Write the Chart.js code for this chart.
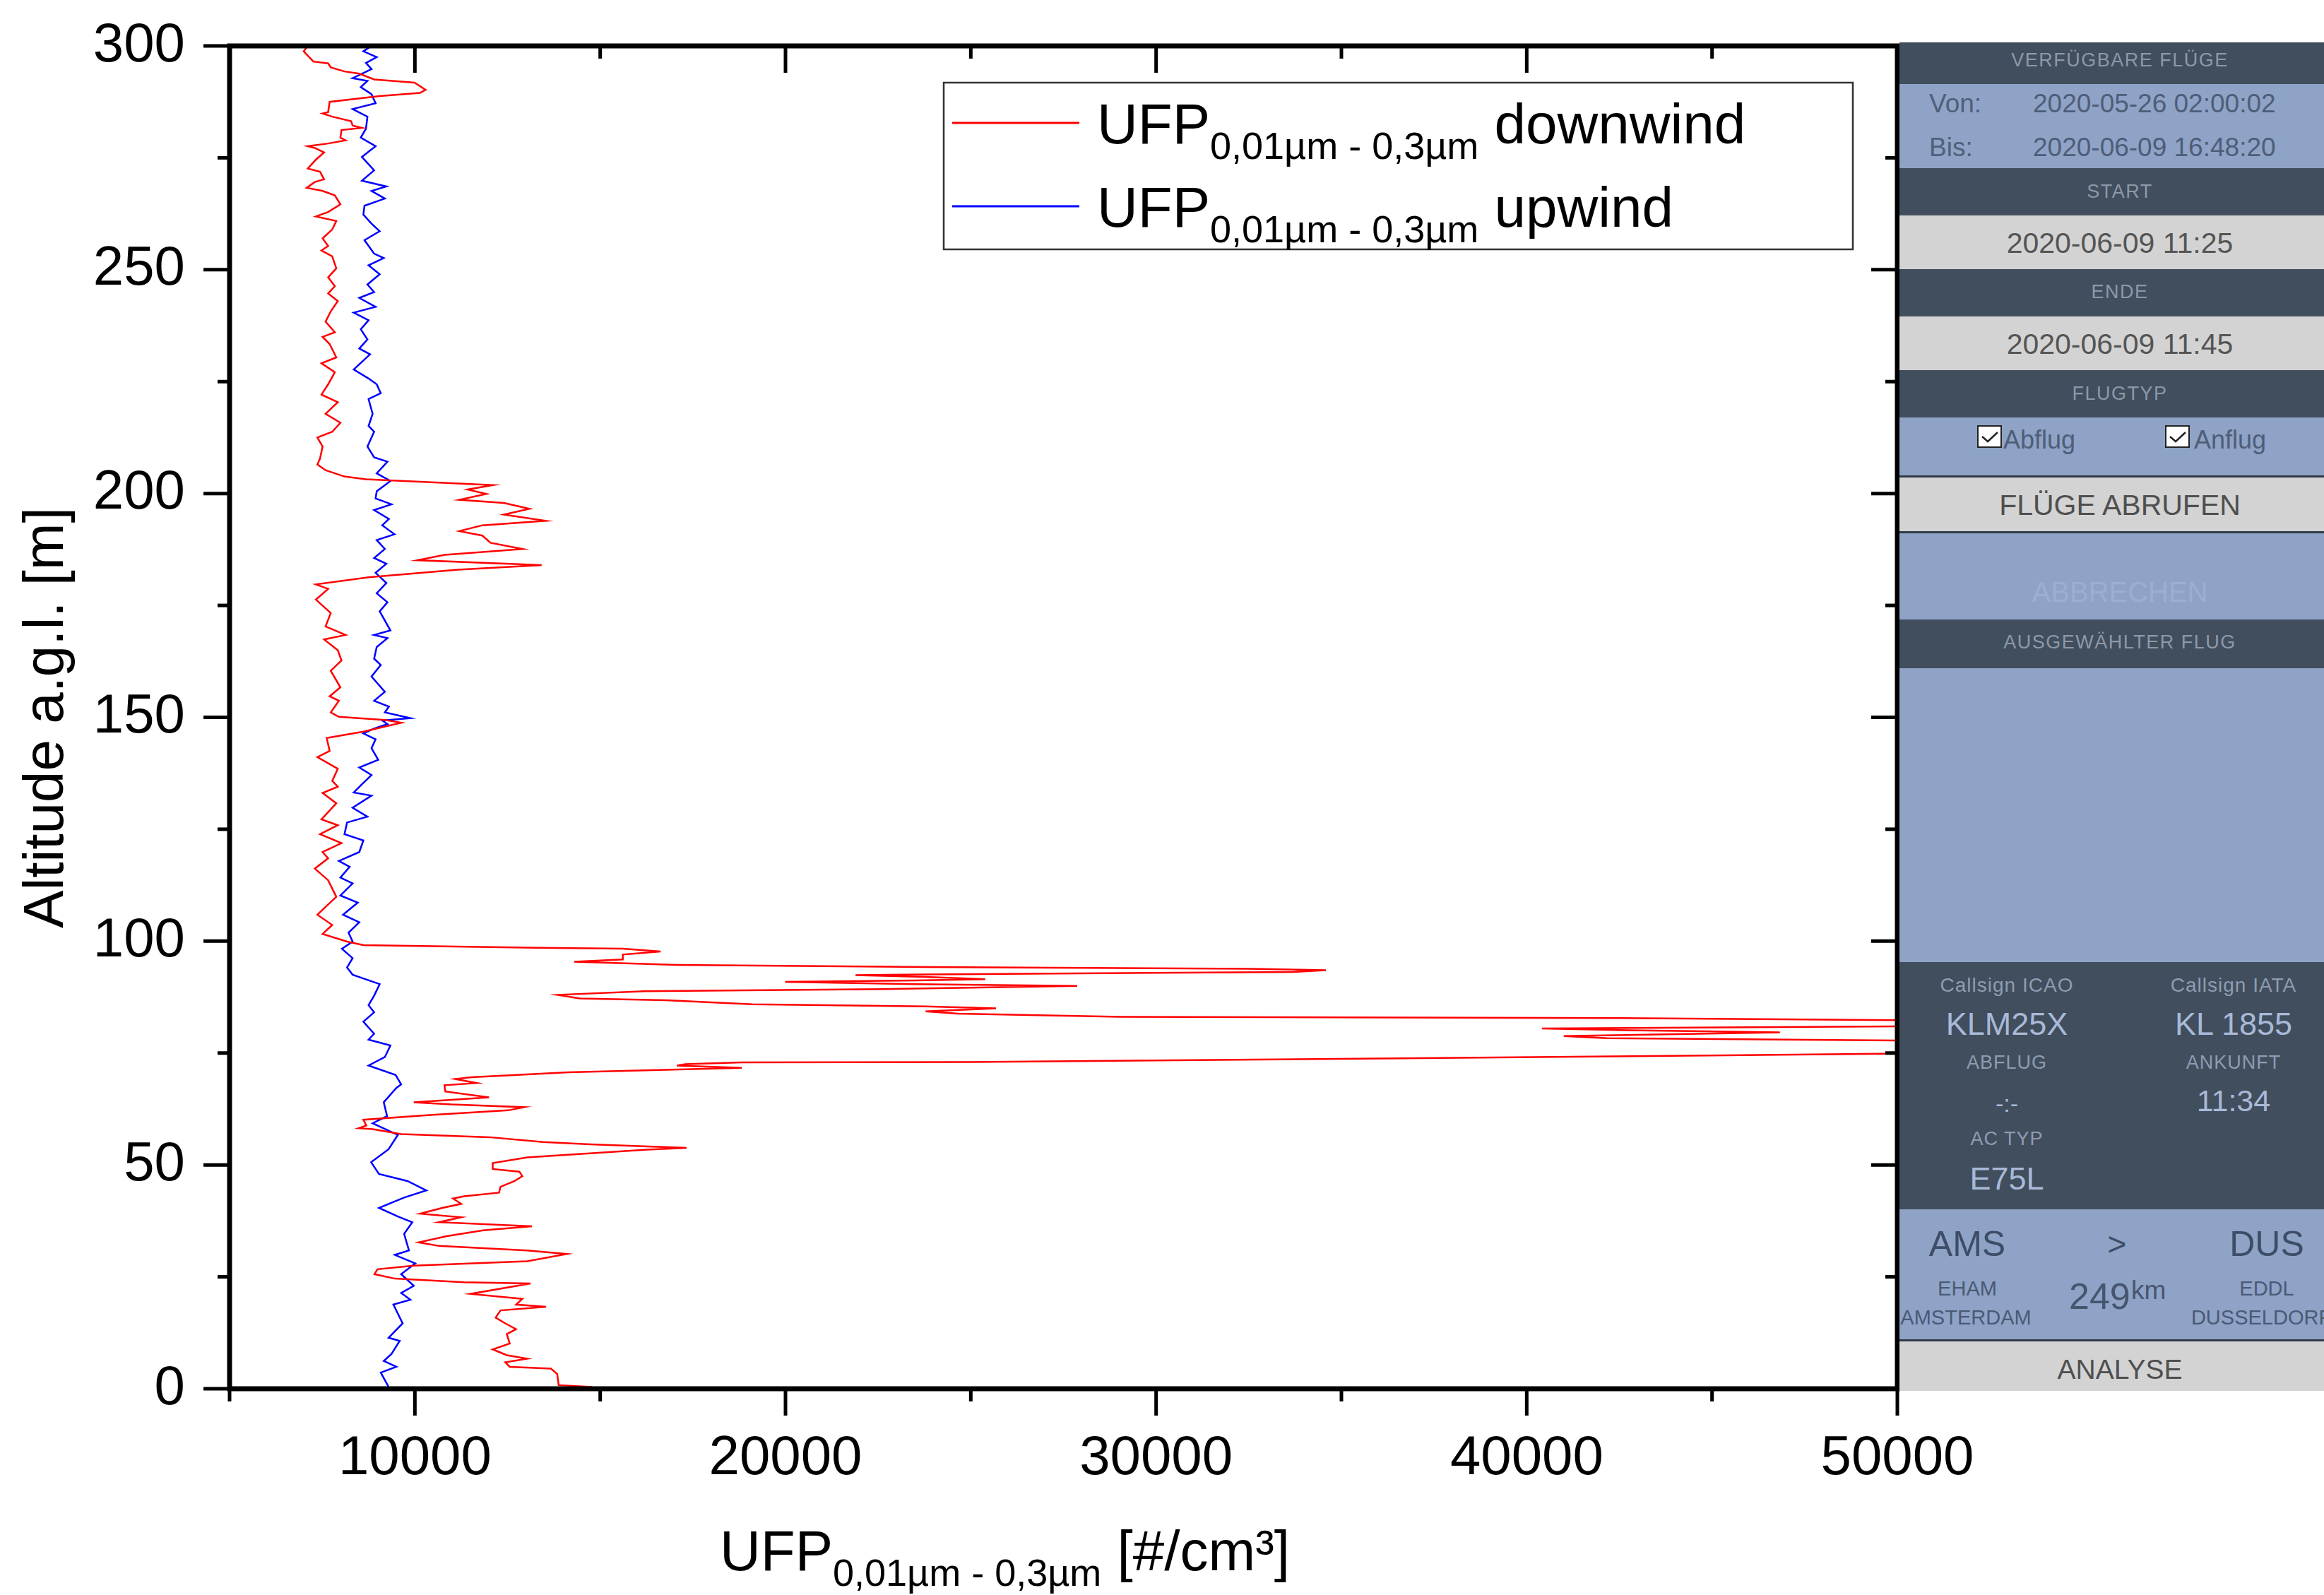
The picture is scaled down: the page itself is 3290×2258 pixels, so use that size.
<!DOCTYPE html>
<html><head><meta charset="utf-8">
<script src="https://cdn.jsdelivr.net/npm/chart.js@4.4.1/dist/chart.umd.min.js"></script>
<style>
html,body{margin:0;padding:0;background:#fff;overflow:hidden;width:3290px;height:2258px;}
#c{position:absolute;left:0;top:0;}
#panel{position:absolute;left:2689px;top:0;width:601px;height:2258px;overflow:hidden;}
.bd{position:absolute;left:0;width:601px;}
.d{background:#414e5d}.b{background:#8fa3c7}.g{background:#d3d3d3}
.ln{position:absolute;left:0;width:601px;height:3px;background:#2f3b48}
.t{position:absolute;transform:translate(-50%,-50%);white-space:nowrap;font-family:'Liberation Sans',Arial,sans-serif;line-height:1;}
.l{position:absolute;transform:translateY(-50%);white-space:nowrap;font-family:'Liberation Sans',Arial,sans-serif;line-height:1;}
.h{font-size:27px;color:#8d98aa;letter-spacing:1.5px}
.cb{position:absolute;width:31px;height:28px;background:#fff;border:2px solid #222;}
</style></head><body>
<canvas id="c" width="3290" height="2258"></canvas>
<div id="panel">
  <div class="bd d" style="top:60px;height:59px"></div>
  <div class="bd b" style="top:119px;height:119px"></div>
  <div class="bd d" style="top:238px;height:67px"></div>
  <div class="bd g" style="top:305px;height:76px"></div>
  <div class="bd d" style="top:381px;height:67px"></div>
  <div class="bd g" style="top:448px;height:76px"></div>
  <div class="bd d" style="top:524px;height:67px"></div>
  <div class="bd b" style="top:591px;height:84px"></div>
  <div class="bd g" style="top:675px;height:78px"></div>
  <div class="bd b" style="top:753px;height:124px"></div>
  <div class="bd d" style="top:877px;height:69px"></div>
  <div class="bd b" style="top:946px;height:416px"></div>
  <div class="bd d" style="top:1362px;height:350px"></div>
  <div class="bd b" style="top:1712px;height:186px"></div>
  <div class="bd g" style="top:1898px;height:71px"></div>
  <div class="ln" style="top:673px"></div>
  <div class="ln" style="top:752px"></div>
  <div class="ln" style="top:1896px"></div>

  <div class="t h" style="left:312px;top:85px">VERFÜGBARE FLÜGE</div>
  <div class="l" style="left:42px;top:146px;font-size:37px;color:#50607a">Von:</div>
  <div class="l" style="left:189px;top:146px;font-size:37px;color:#4e5e78">2020-05-26 02:00:02</div>
  <div class="l" style="left:42px;top:208px;font-size:37px;color:#50607a">Bis:</div>
  <div class="l" style="left:189px;top:208px;font-size:37px;color:#4e5e78">2020-06-09 16:48:20</div>
  <div class="t h" style="left:312px;top:271px">START</div>
  <div class="t" style="left:312px;top:344px;font-size:41px;color:#555">2020-06-09 11:25</div>
  <div class="t h" style="left:312px;top:413px">ENDE</div>
  <div class="t" style="left:312px;top:487px;font-size:41px;color:#555">2020-06-09 11:45</div>
  <div class="t h" style="left:312px;top:557px">FLUGTYP</div>
  <div class="cb" style="left:110px;top:602px"><svg width="31" height="28"><polyline points="5,14 13,21 27,8" fill="none" stroke="#222" stroke-width="2.5"/></svg></div>
  <div class="l" style="left:147px;top:623px;font-size:36px;color:#4e5e78">Abflug</div>
  <div class="cb" style="left:376px;top:602px"><svg width="31" height="28"><polyline points="5,14 13,21 27,8" fill="none" stroke="#222" stroke-width="2.5"/></svg></div>
  <div class="l" style="left:417px;top:623px;font-size:36px;color:#4e5e78">Anflug</div>
  <div class="t" style="left:312px;top:715px;font-size:41px;color:#4f4f4f">FLÜGE ABRUFEN</div>
  <div class="t" style="left:312px;top:838px;font-size:40px;color:#9cafd0">ABBRECHEN</div>
  <div class="t h" style="left:312px;top:909px">AUSGEWÄHLTER FLUG</div>

  <div class="t" style="left:152px;top:1395px;font-size:28px;color:#8e9cb2;letter-spacing:1px">Callsign ICAO</div>
  <div class="t" style="left:473px;top:1395px;font-size:28px;color:#8e9cb2;letter-spacing:1px">Callsign IATA</div>
  <div class="t" style="left:152px;top:1449px;font-size:45px;color:#a9b9d8">KLM25X</div>
  <div class="t" style="left:473px;top:1449px;font-size:45px;color:#a9b9d8">KL 1855</div>
  <div class="t" style="left:152px;top:1504px;font-size:27px;color:#8e9cb2;letter-spacing:1px">ABFLUG</div>
  <div class="t" style="left:473px;top:1504px;font-size:27px;color:#8e9cb2;letter-spacing:1px">ANKUNFT</div>
  <div class="t" style="left:152px;top:1562px;font-size:34px;color:#a9b9d8">-:-</div>
  <div class="t" style="left:473px;top:1558px;font-size:43px;color:#a9b9d8">11:34</div>
  <div class="t" style="left:152px;top:1612px;font-size:27px;color:#8e9cb2;letter-spacing:1px">AC TYP</div>
  <div class="t" style="left:152px;top:1668px;font-size:45px;color:#a9b9d8">E75L</div>

  <div class="t" style="left:96px;top:1761px;font-size:50px;color:#3e4d66">AMS</div>
  <div class="t" style="left:308px;top:1761px;font-size:46px;color:#3e4d66">&gt;</div>
  <div class="t" style="left:520px;top:1761px;font-size:50px;color:#3e4d66">DUS</div>
  <div class="t" style="left:96px;top:1824px;font-size:29px;color:#4a5a75">EHAM</div>
  <div class="t" style="left:94px;top:1865px;font-size:29px;color:#4a5a75">AMSTERDAM</div>
  <div class="t" style="left:520px;top:1824px;font-size:29px;color:#4a5a75">EDDL</div>
  <div class="t" style="left:512px;top:1865px;font-size:29px;color:#4a5a75">DUSSELDORF</div>
  <div style="position:absolute;left:240px;top:1809px;font-family:'Liberation Sans',Arial,sans-serif;font-size:52px;line-height:1;color:#46566f">249</div>
  <div style="position:absolute;left:328px;top:1808px;font-family:'Liberation Sans',Arial,sans-serif;font-size:37px;line-height:1;color:#46566f">km</div>
  <div class="t" style="left:312px;top:1938px;font-size:39px;color:#4f4f4f">ANALYSE</div>
</div>
<script>
// ---- data (altitude a.g.l. [m] and UFP concentration [#/cm³]) ----
const downAlt = [300.0,298.8,298.1,296.5,296.1,295.2,294.3,293.8,292.5,291.8,290.2,289.5,288.8,287.5,285.2,284.9,284.2,283.2,282.2,281.7,281.2,279.5,278.9,278.2,277.6,277.2,276.2,274.6,272.6,271.9,270.2,269.6,268.3,267.6,266.6,264.6,262.9,261.9,260.9,259.0,257.0,255.3,254.3,253.0,250.3,248.3,246.3,244.7,243.0,240.7,238.4,236.0,235.0,233.4,230.4,229.1,227.1,224.4,222.1,220.4,217.8,215.8,213.8,212.5,210.5,207.8,206.5,205.2,203.8,203.2,201.9,200.9,199.9,198.6,197.9,196.6,195.3,193.9,192.9,191.6,190.6,189.0,187.6,186.3,185.1,184.0,183.0,181.3,179.7,178.7,176.3,173.3,170.3,168.4,167.4,165.0,162.7,160.4,156.7,154.7,153.7,151.1,150.1,149.4,148.8,146.8,145.4,142.5,141.1,138.5,135.8,134.5,133.1,130.8,127.2,125.9,123.9,121.9,119.9,118.5,116.2,113.6,109.9,105.9,103.6,101.6,99.9,99.1,98.5,98.3,97.7,97.0,95.9,95.4,94.7,94.2,93.8,93.5,93.1,92.9,92.5,92.4,92.0,91.5,91.2,90.9,90.4,90.0,89.3,88.8,88.0,87.2,86.8,85.9,85.4,85.0,84.3,83.8,83.1,82.8,82.0,81.0,80.5,80.1,79.6,78.8,78.3,77.8,76.5,74.9,74.5,73.8,73.0,72.9,72.5,72.2,71.7,70.7,69.6,69.2,68.3,67.8,66.4,65.1,64.0,63.5,62.9,62.2,61.2,60.1,58.8,58.2,58.0,56.9,56.2,55.1,54.6,53.8,53.4,51.7,50.4,49.1,48.5,47.5,46.4,45.1,43.8,43.0,42.5,41.3,40.4,39.1,38.3,37.2,36.3,35.4,34.1,32.7,31.9,30.9,30.1,28.5,27.5,26.7,25.6,24.6,23.8,23.5,21.2,20.1,18.8,18.3,17.5,15.9,14.6,13.3,12.2,10.1,8.8,7.5,6.7,5.9,4.9,4.5,3.3,0.8,0.4];
const downUFP = [7110,7000,7080,7260,7660,7730,8100,8500,8900,9990,10290,10140,9050,7700,7660,7510,7770,8280,8320,8570,8020,7990,8130,7660,7110,7300,7550,7330,7110,7440,7550,7300,7080,7510,7840,7990,7660,7330,7880,7770,7510,7660,7480,7770,7880,7660,7840,7660,7920,7730,7590,7840,7510,7700,7880,7480,7840,7660,7480,7920,7590,7990,7770,7370,7510,7440,7370,7590,8100,8680,12110,11420,11930,11200,12400,13090,12400,13530,11820,11200,11820,12040,12910,10800,10070,13420,11160,8750,7330,7660,7330,7730,7590,8130,7550,7920,8020,7730,7990,7700,7950,7730,7950,9190,9630,8610,7620,7700,7370,7920,7770,7920,7510,7880,7480,7920,7440,8020,7510,7660,7300,7660,7880,7370,7770,7510,8170,8610,13280,15610,16630,15610,15610,14300,17070,23780,32540,34580,33700,29910,23200,21890,23780,25390,23490,19990,23490,27870,22620,16200,13860,14450,16780,19110,23780,25680,23780,24660,29040,42460,56000,50500,40410,42750,46830,41000,42170,50300,58000,50100,45380,36620,24950,18820,17300,17070,18820,14150,11530,11090,11670,10800,10820,12000,9970,10990,12950,12520,10480,8610,8690,8480,8860,9630,12010,13460,14730,17330,16270,13030,12100,12100,12820,12900,12690,12310,12270,11330,11030,11250,10740,10140,11250,10650,13160,11840,10860,10100,10650,13030,14100,13030,9970,8990,8910,9460,11330,13120,11500,12900,12730,13540,12310,12180,12440,12730,12480,12560,12100,12480,13030,12440,12560,13670,13840,13880,14780];
const upAlt = [300.0,298.8,297.5,296.2,294.8,292.8,292.2,290.8,289.2,287.2,285.9,284.2,281.5,279.5,277.6,275.2,272.2,269.9,268.6,267.6,265.9,264.3,262.3,260.3,258.6,256.6,253.6,252.6,251.0,249.0,246.7,245.0,243.7,241.7,240.4,238.7,236.7,234.4,232.4,231.1,227.7,225.7,224.4,222.4,221.1,217.8,215.1,213.8,210.5,208.1,207.1,204.5,202.8,200.5,198.9,197.6,196.3,194.3,192.9,190.9,189.6,187.6,185.6,184.3,182.3,180.0,177.7,175.7,173.7,169.4,168.4,167.7,165.7,163.1,161.7,159.1,155.7,153.7,152.4,151.1,149.8,149.3,148.5,147.5,146.4,145.1,143.1,140.5,138.8,137.1,134.8,133.2,132.5,129.8,127.8,126.5,123.9,122.5,119.9,117.9,116.6,114.2,112.9,110.2,108.6,105.9,104.2,101.9,99.9,98.3,96.2,94.1,92.5,90.4,87.8,85.7,84.1,82.0,79.3,78.0,76.7,74.1,72.2,70.1,68.0,67.2,64.0,60.9,59.3,56.7,53.5,50.6,48.0,46.4,44.3,42.7,40.4,38.5,37.2,34.6,30.9,29.9,28.0,25.6,23.0,21.4,19.9,18.8,14.6,11.4,10.7,7.8,6.2,4.9,3.6,0.4];
const upUFP = [8830,8610,8970,8680,8830,8320,8720,8540,8830,8940,8320,8720,8680,8540,8940,8570,8900,8570,9230,8830,9190,8640,8610,8830,9050,8640,8900,9160,8750,9050,8720,8900,8500,8940,8350,8750,8540,8720,8500,8790,8350,8750,8970,9080,8750,8860,8750,8900,8720,8900,9260,8970,9340,8970,8940,9370,8900,9300,9120,9450,8970,9190,8900,9230,8940,9230,8970,9260,9050,9340,8900,9260,8970,8900,9080,8830,9190,8900,9300,9190,9880,9120,9260,8900,8610,8940,8830,9010,8500,8830,8540,8350,8830,8320,8720,8170,8100,8610,8500,7950,8240,7990,8320,7990,8460,8060,8500,8210,8320,8030,8320,8170,8320,9050,8900,8750,8900,8610,8900,8750,9340,9190,8750,9480,9630,9500,9160,9250,8860,9540,9290,8820,9030,9800,10310,9710,9030,9540,9930,9710,9840,9460,10010,9630,9970,9630,9880,9420,9670,9290,9590,9370,9160,9500,9080,9290];
const xTickLabels = [10000, 20000, 30000, 40000, 50000];
const yTickLabels = [0, 50, 100, 150, 200, 250, 300];
const seriesLabels = ['downwind', 'upwind'];
const seriesColors = ['#ff0000', '#0000ff'];
const sizeRange = '0,01µm - 0,3µm';

const FONT = "'Liberation Sans', Arial, sans-serif";
const toXY = (alts, vals) => alts.map((a, i) => ({ x: vals[i], y: a }));

function subText(ctx, x, y, main1, sub, main2, big, small, dy) {
  ctx.font = big + 'px ' + FONT;
  ctx.fillText(main1, x, y);
  x += ctx.measureText(main1).width;
  ctx.font = small + 'px ' + FONT;
  ctx.fillText(sub, x, y + dy);
  x += ctx.measureText(sub).width;
  ctx.font = big + 'px ' + FONT;
  x += ctx.measureText(' ').width;
  ctx.fillText(main2, x, y);
}

const frame = {
  id: 'frame',
  afterDraw(chart) {
    const { ctx, chartArea: a, scales: { x, y } } = chart;
    ctx.save();
    ctx.strokeStyle = '#000';
    ctx.lineWidth = 7;
    ctx.lineJoin = 'miter';
    ctx.beginPath();
    ctx.rect(a.left, a.top, a.right - a.left, a.bottom - a.top);
    ctx.stroke();
    ctx.lineWidth = 5;
    const seg = (x1, y1, x2, y2) => { ctx.beginPath(); ctx.moveTo(x1, y1); ctx.lineTo(x2, y2); ctx.stroke(); };
    x.ticks.forEach(t => {
      const px = x.getPixelForValue(t.value);
      const L = xTickLabels.includes(t.value) ? 38 : 18;
      seg(px, a.bottom, px, a.bottom + L);
      seg(px, a.top, px, a.top + L);
    });
    y.ticks.forEach(t => {
      const py = y.getPixelForValue(t.value);
      const L = yTickLabels.includes(t.value) ? 37 : 17;
      seg(a.left - L, py, a.left, py);
      seg(a.right - L, py, a.right, py);
    });
    // legend
    ctx.lineWidth = 2.5;
    ctx.strokeStyle = '#333';
    ctx.strokeRect(1336, 117, 1287, 236);
    const rows = [174, 292];
    ctx.fillStyle = '#000';
    ctx.textAlign = 'left';
    ctx.textBaseline = 'alphabetic';
    chart.data.datasets.forEach((ds, i) => {
      ctx.strokeStyle = ds.borderColor;
      ctx.lineWidth = 3;
      seg(1348, rows[i], 1528, rows[i]);
      subText(ctx, 1553, rows[i] + 29, 'UFP', sizeRange, seriesLabels[i], 80, 54, 22);
    });
    // x axis title
    subText(ctx, 1019, 2223, 'UFP', sizeRange, '[#/cm³]', 80, 54, 22);
    // y axis title
    ctx.save();
    ctx.translate(89, 1016);
    ctx.rotate(-Math.PI / 2);
    ctx.textAlign = 'center';
    ctx.font = '80px ' + FONT;
    ctx.fillText('Altitude a.g.l. [m]', 0, 0);
    ctx.restore();
    ctx.restore();
  }
};

new Chart(document.getElementById('c'), {
  type: 'scatter',
  data: {
    datasets: [
      { label: seriesLabels[0], data: toXY(downAlt, downUFP), showLine: true, borderColor: seriesColors[0], borderWidth: 2.5, pointRadius: 0, tension: 0, fill: false },
      { label: seriesLabels[1], data: toXY(upAlt, upUFP), showLine: true, borderColor: seriesColors[1], borderWidth: 2.5, pointRadius: 0, tension: 0, fill: false }
    ]
  },
  options: {
    responsive: false,
    animation: false,
    devicePixelRatio: 1,
    layout: { padding: { left: 0, top: 65, right: 604, bottom: 0 } },
    plugins: { legend: { display: false }, tooltip: { enabled: false }, title: { display: false } },
    scales: {
      x: {
        type: 'linear', position: 'bottom', min: 5000, max: 50000,
        ticks: { stepSize: 5000, autoSkip: false, maxRotation: 0, padding: 16, color: '#000',
          font: { family: FONT, size: 78 },
          callback: v => xTickLabels.includes(v) ? String(v) : '' },
        grid: { drawOnChartArea: false, drawTicks: true, tickLength: 37, tickColor: 'rgba(0,0,0,0)' },
        border: { display: false },
        afterFit: s => { s.height = 292; s.paddingLeft = 0; s.paddingRight = 0; }
      },
      y: {
        type: 'linear', position: 'left', min: 0, max: 300,
        ticks: { stepSize: 25, autoSkip: false, padding: 26, color: '#000',
          font: { family: FONT, size: 78 },
          callback: v => yTickLabels.includes(v) ? String(v) : '' },
        grid: { drawOnChartArea: false, drawTicks: true, tickLength: 37, tickColor: 'rgba(0,0,0,0)' },
        border: { display: false },
        afterFit: s => { s.width = 325; s.paddingTop = 0; s.paddingBottom = 0; }
      }
    }
  },
  plugins: [frame]
});
</script>
</body></html>
